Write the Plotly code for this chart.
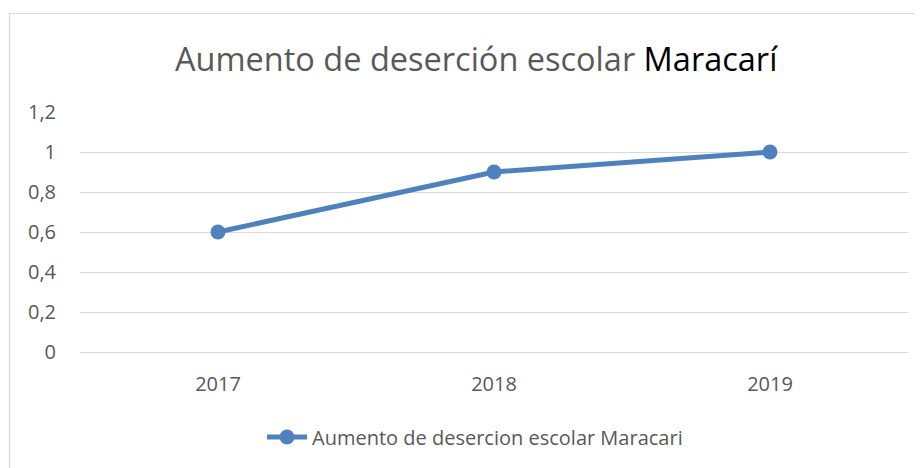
import plotly.graph_objects as go

years = ["2017", "2018", "2019"]
values = [0.6, 0.9, 1.0]
y_ticks = [0, 0.2, 0.4, 0.6, 0.8, 1.0, 1.2]
y_tick_labels = ["0", "0,2", "0,4", "0,6", "0,8", "1", "1,2"]
series_name = "Aumento de desercion escolar Maracari"

OFF = 8  # page body margin
W, H = 922 - OFF, 468 - OFF
L, T = 80 - OFF, 112 - OFF
R = W - (908 - OFF)
B = H - (352 - OFF)
pw, ph = W - L - R, H - T - B

def px(x):
    return (x - OFF - L) / pw

def py(y):
    return (H - B - (y - OFF)) / ph

fig = go.Figure()
fig.add_trace(go.Scatter(
    x=years, y=values, mode="lines+markers", name=series_name,
    line=dict(color="#4F81BD", width=5),
    marker=dict(color="#4F81BD", size=15),
))

font = "Open Sans, Noto Sans, sans-serif"
fig.update_layout(
    width=W, height=H,
    margin=dict(l=L, r=R, t=T, b=B, autoexpand=False),
    paper_bgcolor="white", plot_bgcolor="white",
    font=dict(family=font, color="#595959", size=20),
    showlegend=True,
    legend=dict(orientation="h", x=px(475), xanchor="center", y=py(437), yanchor="middle",
                font=dict(size=20, color="#595959"), itemwidth=40),
    xaxis=dict(range=[-0.5, 2.5], showgrid=False, showline=False, zeroline=False, ticks="",
               ticklabelstandoff=18, tickfont=dict(size=20, color="#595959"), automargin=False),
    yaxis=dict(range=[0, 1.2], tickvals=y_ticks, ticktext=y_tick_labels,
               showgrid=True, gridcolor="#D9D9D9", gridwidth=1.3,
               zeroline=True, zerolinecolor="#D9D9D9", zerolinewidth=1.3,
               showline=False, ticks="", ticklabelstandoff=23,
               tickfont=dict(size=20, color="#595959"), automargin=False),
    annotations=[dict(
        text="Aumento de deserción escolar <span style='color:black'>Maracarí</span>",
        x=px(476), y=py(59), xref="paper", yref="paper",
        xanchor="center", yanchor="middle", showarrow=False,
        font=dict(size=32.5, color="#595959", family=font),
    )],
    shapes=[dict(type="rect", xref="paper", yref="paper",
                 x0=px(9.5), x1=px(940), y0=py(490), y1=py(13.5),
                 line=dict(color="#D9D9D9", width=1.2), layer="below")],
)

fig.write_html("out.html")
